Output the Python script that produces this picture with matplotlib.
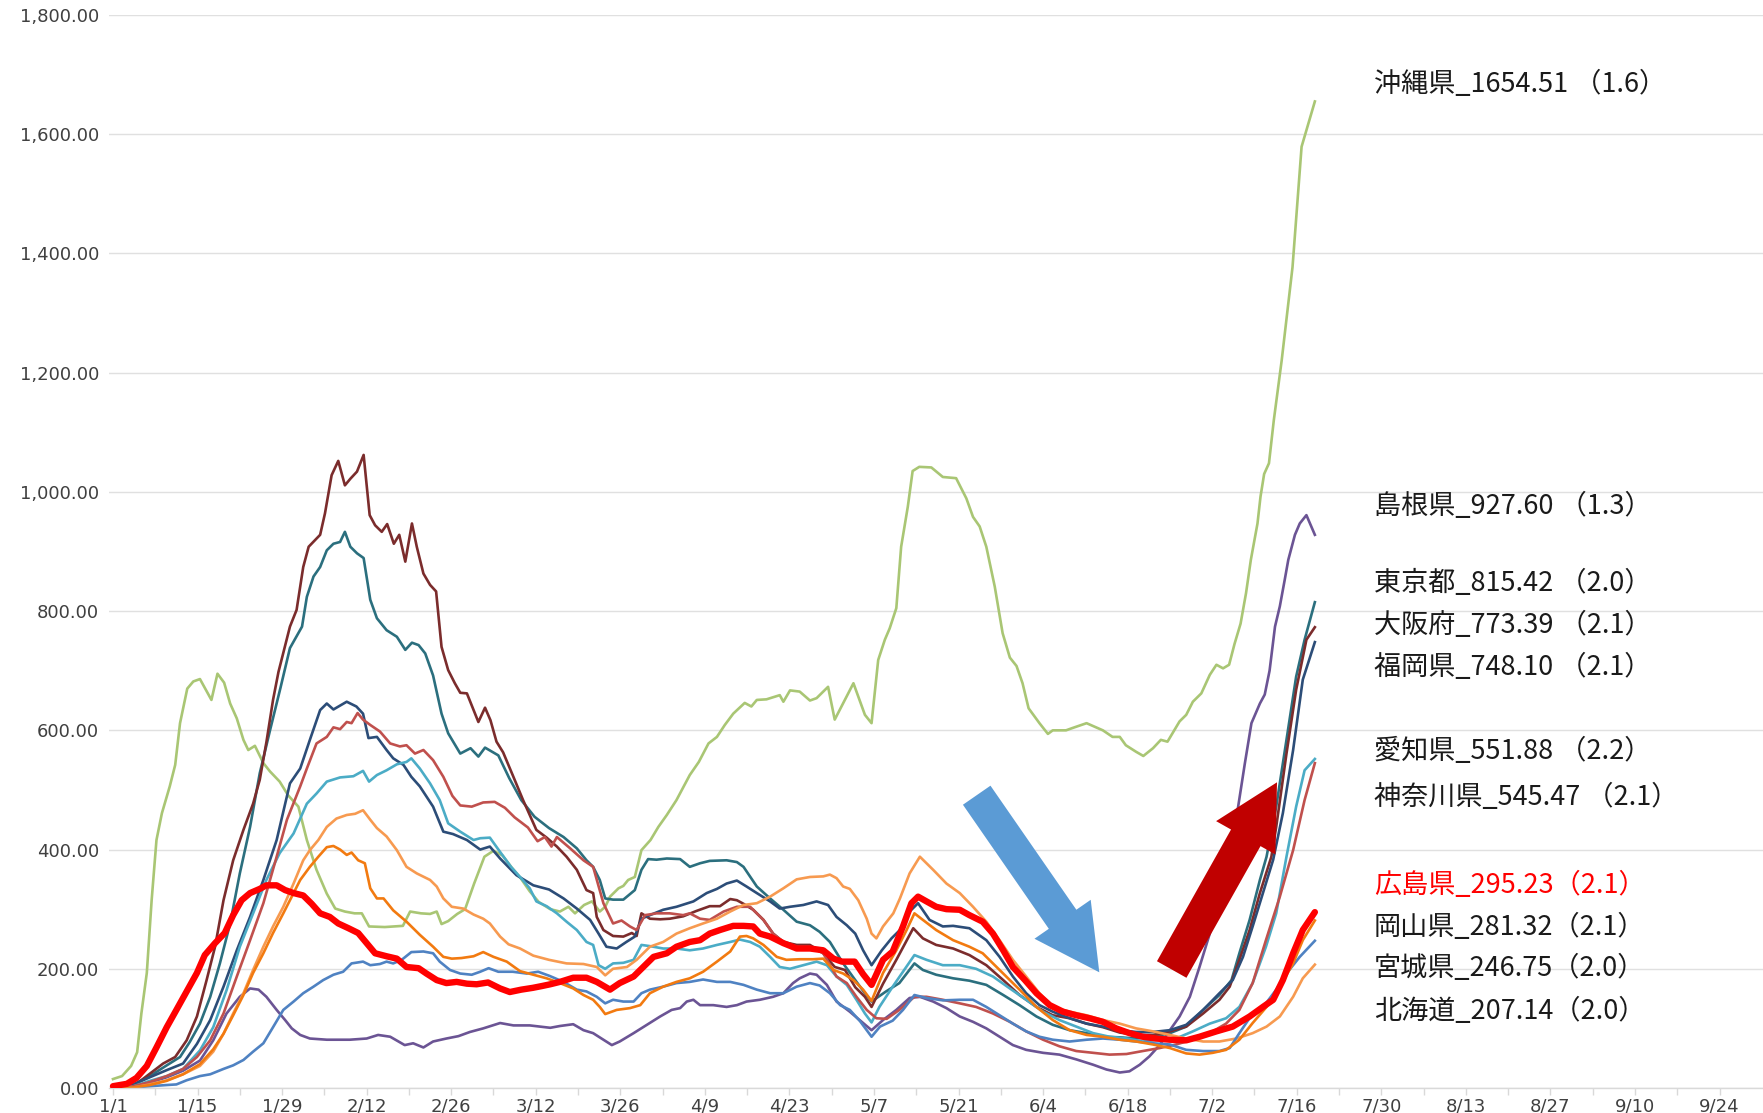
import datetime as dt
import matplotlib
matplotlib.use("Agg")
import matplotlib.pyplot as plt
from matplotlib.patches import FancyArrow
from matplotlib.transforms import Affine2D
from matplotlib.ticker import FuncFormatter

# ---- データ（1/1 からの経過日数, 直近1週間の人口10万人当たり新規陽性者数） ----
okinawa_day = [0, 1.5, 3, 4, 4.7, 5.6, 6.4, 7.2, 8.1, 9.4, 10.3, 11.1, 12.3, 13.3, 14.4, 16.3, 17.3, 18.4,
               19.4, 20.5, 21.6, 22.4, 23.5, 24.9, 26, 27.6, 29, 30.7, 32.1, 33.7, 35.4, 36.8, 38.4, 40, 41.2,
               42.4, 45, 48, 49.2, 51, 52.5, 53.6, 54.4, 55.5, 57, 58.3, 59.8, 61.5, 63, 64.5, 66, 67.5, 69,
               70.5, 72.4, 74, 75.4, 76.5, 78, 79.3, 80.6, 81.5, 82.3, 83.7, 84.5, 85.3, 86.4, 87.5, 89, 90.3,
               91.7, 93.3, 95.5, 97, 98.6, 100, 101.3, 102.7, 104.6, 105.7, 106.6, 108.2, 110.4, 111, 112.1,
               113.7, 115.4, 116.5, 118.4, 119.5, 122.6, 124.5, 125.6, 126.7, 127.8, 128.6, 129.7, 130.5,
               131.6, 132.4, 133.5, 135.5, 137.4, 139.6, 141.3, 142.4, 143.5, 144.6, 146, 147.3, 148.5, 149.6,
               150.6, 151.6, 153.4, 154.8, 155.6, 157.8, 158.9, 161.2, 162.8, 163.9, 165.5, 166.7, 167.7,
               169.4, 170.6, 172.2, 173.5, 174.6, 176.6, 177.7, 178.8, 180.2, 181.6, 182.7, 183.8, 184.8,
               185.7, 186.7, 187.6, 188.4, 189.5, 190, 190.6, 191.4, 192.2, 193.5, 195.3, 196.8, 199]
okinawa_val = [15, 20, 37, 60, 125, 193, 315, 416, 461, 506, 542, 612, 670, 682, 686, 651, 695, 680,
               645, 620, 584, 567, 574, 545, 531, 514, 491, 472, 416, 366, 326, 301, 296, 293, 293,
               271, 270, 272, 296, 293, 292, 296, 275, 280, 292, 300, 343, 388, 398, 390, 370, 352, 330,
               312, 300, 296, 304, 293, 307, 313, 296, 304, 321, 335, 339, 349, 354, 399, 416, 438,
               458, 483, 525, 547, 578, 589, 609, 628, 646, 640, 651, 652, 659, 648, 667,
               665, 650, 654, 673, 618, 679, 626, 612, 718, 752, 771, 805, 908,
               975, 1035, 1042, 1041, 1025, 1023, 989, 958, 942, 908, 841, 763, 722, 708,
               679, 637, 612, 594, 600, 600, 604, 612, 605, 600, 589, 589, 575,
               564, 557, 570, 584, 581, 615, 626, 648, 662, 693, 710, 704, 710,
               745, 779, 830, 886, 947, 992, 1030, 1048, 1120, 1220, 1377, 1579, 1655]

shimane_day = [0, 3.4, 6.1, 8.9, 11.6, 14.4, 16.6, 18.8, 21, 22.7, 24.1, 25.4, 27.1, 28.5, 29.6, 31, 32.6,
               35.4, 39.2, 42, 43.9, 45.9, 48.3, 49.7, 51.4, 53, 55.2, 57.2, 59.1, 61.3, 64.1, 66.3, 69,
               72.4, 74, 76.2, 77.9, 79.5, 81.2, 82.6, 83.9, 86.2, 88.4, 90.6, 92.5, 93.9, 95, 96.1, 97.2,
               99.4, 101.6, 103.3, 104.9, 107.1, 109.3, 111, 112.6, 113.7, 115.4, 116.5, 118.2, 119.8, 122,
               124.2, 125.6, 127.5, 129.7, 131.9, 133.6, 135.8, 138, 140.2, 142.4, 144.6, 146.8, 149, 151.2,
               154, 156.7, 159.5, 162.3, 164.5, 166.7, 168.3, 170, 171.6, 173.3, 175, 176.6, 178.3, 179.9,
               181.6, 183.2, 184.9, 186.3, 187.4, 188.5, 189.9, 190.7, 191.5, 192.4, 193.2, 194, 194.6,
               195.7, 196.5, 197.6, 199]
shimane_val = [0, 3, 9, 18, 29, 46, 80, 125, 153, 167, 165, 153, 131, 114, 100, 89, 83,
               81, 81, 83, 89, 86, 72, 75, 68, 78, 83, 87, 94, 100, 109, 105, 105,
               101, 104, 107, 97, 92, 81, 72, 78, 92, 106, 120, 131, 134, 145, 148, 139,
               139, 136, 139, 145, 148, 153, 159, 176, 184, 192, 190, 173, 145, 128,
               109, 97, 114, 131, 151, 153, 145, 134, 120, 111, 100, 86, 72, 64,
               59, 56, 48, 39, 31, 26, 28, 39, 53, 72, 97, 120, 153, 203,
               259, 327, 394, 472, 544, 612, 645, 660, 700, 774, 808, 852, 886,
               928, 947, 961, 928]

tokyo_day = [0, 3.4, 6.1, 8.9, 11.1, 12.7, 14.4, 16.1, 17.7, 19.4, 21, 22.7, 24.3, 26, 27.7, 29.3, 31.3,
             32.1, 33.2, 34.3, 35.4, 36.5, 37.6, 38.4, 39.3, 40.4, 41.5, 42.6, 43.7, 45.3, 47, 48.4, 49.5,
             50.6, 51.7, 53, 54.4, 55.5, 57.5, 59.2, 60.5, 61.6, 63.8, 65.6, 67.6, 69.8, 72.2, 74.6, 76.8,
             78.4, 79.5, 80.6, 81.5, 82.8, 84.5, 86.4, 87.5, 88.6, 90, 91.7, 93.9, 95.5, 97.2, 98.8, 101.6,
             103.3, 104.4, 106.6, 108.8, 111, 113.2, 115.4, 117, 118.7, 120.9, 122.9, 124.5, 125.6, 128,
             130.2, 132.7, 134.1, 136.3, 139.1, 141.8, 144.6, 147.4, 150.1, 152.9, 155.6, 158.4, 161.2,
             163.9, 166.7, 169.4, 172.2, 175, 177.7, 180.5, 183.2, 185.2, 186.5, 188.2, 189.9, 191, 192.6,
             194.3, 195.9, 197.3, 199]
tokyo_val = [0, 6, 20, 38, 52, 77, 108, 153, 209, 276, 360, 438, 528, 600, 670, 738, 774,
             824, 858, 874, 902, 913, 916, 933, 908, 897, 889, 819, 788, 768, 757, 735, 747,
             743, 729, 692, 628, 595, 561, 570, 556, 571, 558, 520, 483, 455, 436, 421, 402,
             382, 371, 349, 318, 316, 316, 332, 366, 384, 383, 385, 384, 371, 377, 381, 382,
             379, 371, 338, 318, 299, 279, 273, 262, 245, 209, 181, 159, 145, 162,
             176, 209, 198, 190, 184, 180, 173, 156, 139, 120, 106, 97, 92,
             86, 85, 83, 86, 92, 103, 131, 156, 181, 226, 282, 349, 388, 472,
             584, 690, 752, 815]

osaka_day = [0, 3.4, 6.1, 8.3, 10.3, 12.2, 13.9, 15.5, 16.9, 18.3, 19.9, 21.6, 23.2, 24.3, 25.4, 26.5,
             27.4, 29.3, 30.4, 31.5, 32.4, 34.3, 35.1, 36.2, 37.3, 38.4, 39.3, 40.4, 41.5, 42.5, 43.4, 44.5,
             45.4, 46.5, 47.4, 48.4, 49.5, 50.3, 51.4, 52.5, 53.5, 54.4, 55.5, 56.6, 57.5, 58.6, 60.5, 61.6,
             62.5, 63.5, 64.6, 66.3, 67.9, 70.1, 71.8, 73.5, 75.1, 76.8, 78.4, 79.5, 80.1, 81.2, 82.8, 84.5,
             85.9, 86.7, 87.5, 88.9, 90.6, 92.2, 94.4, 96.6, 98.8, 100.5, 102.2, 103.3, 104.4, 106, 107.7,
             109.3, 111, 113.2, 115.4, 117.6, 119.5, 121.2, 122.9, 124.5, 125.6, 127.5, 129.7, 132.5, 134.1,
             136.3, 139.1, 141.8, 144.6, 147.4, 150.1, 152.9, 155.6, 158.4, 161.2, 163.9, 166.7, 169.4,
             172.2, 175, 177.7, 180.5, 183.2, 184.9, 186.5, 188.2, 189.9, 191.8, 192.6, 194.3, 195.9,
             197.6, 199]
osaka_val = [0, 3, 24, 41, 52, 80, 120, 181, 237, 315, 382, 433, 477, 517, 580, 651,
             698, 774, 802, 874, 908, 928, 964, 1028, 1052, 1011, 1022, 1034, 1062, 961, 944, 933,
             946, 913, 928, 883, 947, 908, 863, 844, 833, 740, 701, 679, 663, 662, 614, 638,
             617, 581, 563, 522, 483, 433, 420, 405, 388, 366, 332, 327, 287, 265, 255, 254,
             260, 255, 293, 284, 283, 284, 288, 297, 305, 305, 317, 315, 309, 299, 282,
             259, 245, 240, 240, 226, 203, 198, 169, 153, 136, 175, 215, 268, 251,
             240, 234, 223, 206, 181, 156, 136, 122, 117, 108, 102, 93, 89,
             89, 95, 103, 125, 148, 170, 215, 265, 327, 388, 438, 561, 668,
             752, 773]

fukuoka_day = [0, 3.4, 6.1, 8.9, 11.6, 13.9, 16.1, 18.3, 20.5, 22.7, 24.9, 27.1, 29.3, 31, 32.6, 34.3,
               35.4, 36.5, 38.7, 40.3, 41.4, 42.3, 43.7, 45.3, 46.4, 48.1, 49.4, 50.8, 53, 54.7, 56.3, 58.6,
               60.8, 62.4, 64.1, 66.8, 69.6, 72.2, 74.6, 76.8, 79, 80.4, 81.7, 83.4, 85, 86.4, 87.5, 88.9,
               91.1, 93.3, 96.1, 98.3, 100, 101.6, 103.3, 104.9, 106.6, 108.8, 110.4, 112.1, 114.3, 116.5,
               118.4, 119.8, 121.5, 122.9, 124.2, 125.6, 127.3, 128.9, 130.3, 131.6, 133.3, 135.2, 137.4,
               139.1, 141.8, 144.6, 146.8, 149, 151.2, 153.4, 155.6, 158.4, 161.2, 163.9, 166.7, 169.4,
               172.2, 175, 177.7, 180.5, 183.2, 185.4, 187.1, 188.7, 190.4, 192.1, 193.7, 195.4, 197, 199]
fukuoka_val = [0, 6, 18, 30, 41, 74, 114, 170, 231, 287, 349, 416, 511, 536, 584, 634,
               645, 635, 648, 640, 628, 587, 589, 567, 553, 542, 522, 506, 472, 430, 426, 416,
               400, 405, 385, 357, 340, 333, 318, 301, 282, 259, 237, 234, 245, 254, 284, 290,
               299, 304, 313, 327, 334, 343, 348, 338, 327, 313, 301, 304, 307, 313,
               307, 287, 273, 259, 231, 206, 231, 251, 265, 293, 310, 282, 271,
               272, 268, 248, 220, 187, 159, 139, 128, 117, 108, 103, 97, 94,
               94, 97, 106, 131, 159, 181, 220, 271, 327, 383, 461, 567, 685, 748]

aichi_day = [0, 3.4, 6.1, 8.9, 11.6, 14.4, 16.6, 18.8, 21, 23.2, 25.4, 27.6, 29.9, 32.1, 33.7, 35.4, 37.6,
             39.8, 41.4, 42.4, 43.7, 45.3, 47, 48.6, 49.4, 50.8, 52.5, 54.1, 55.5, 57.5, 59.7, 60.8, 62.4,
             64.1, 65.9, 67.4, 69, 70.1, 71.8, 73.5, 75.1, 76.8, 78.4, 79.5, 80.4, 81.5, 82.8, 84.5, 86.2,
             87.5, 88.9, 91.1, 93.3, 95.5, 97.7, 100, 102.2, 103.8, 105.5, 107.1, 108.8, 110.4, 112.1,
             114.3, 116.5, 118.2, 119.8, 121.5, 123.1, 124.5, 125.6, 126.9, 129.1, 130.8, 132.7, 134.7,
             137.4, 140.2, 142.9, 145.7, 148.5, 151.2, 154, 156.7, 159.5, 162.3, 165, 167.8, 170.5, 173.3,
             176, 178.8, 181.6, 184.3, 186.5, 188.7, 190.9, 192.6, 194.3, 195.9, 197.3, 199]
aichi_val = [0, 3, 12, 20, 32, 63, 102, 164, 237, 293, 349, 394, 427, 477, 494, 514, 521,
             523, 532, 514, 525, 533, 543, 547, 553, 536, 511, 483, 444, 430, 416, 419, 420,
             396, 371, 354, 335, 313, 305, 293, 279, 265, 245, 240, 206, 200, 209, 210, 215,
             240, 238, 234, 234, 231, 234, 240, 245, 249, 245, 237, 220, 203, 200,
             206, 212, 206, 187, 173, 148, 125, 110, 136, 170, 195, 223, 215,
             206, 206, 200, 187, 167, 148, 128, 114, 103, 92, 86, 83, 78, 81,
             83, 95, 108, 117, 136, 176, 237, 293, 388, 472, 533, 552]

kanagawa_day = [0, 3.4, 6.1, 8.9, 11.6, 13.9, 16.1, 18.3, 20.5, 22.7, 24.9, 27.1, 28.8, 31, 32.1, 33.7,
                35.4, 36.5, 37.6, 38.7, 39.5, 40.5, 41.4, 42.6, 44.2, 45.9, 47.5, 48.6, 50, 51.4, 53, 54.7,
                56.2, 57.5, 59.4, 61.3, 63.2, 64.9, 66.5, 68.7, 70.3, 71.5, 72.6, 73.5, 75.7, 77.9, 79.5,
                81.2, 82.8, 84.2, 85.6, 86.7, 88.1, 90, 92.2, 94.4, 95.5, 97.2, 98.8, 101.1, 103.3, 105.5,
                107.7, 109.3, 111, 113.2, 115.4, 117.6, 119.8, 121.5, 123.1, 124.8, 126.4, 128.1, 130.2,
                132.7, 134.7, 137.4, 140.2, 142.9, 145.7, 148.5, 151.2, 154, 156.7, 159.5, 162.3, 165,
                167.8, 170.5, 173.3, 176, 178.8, 181.6, 184.3, 186.5, 188.7, 190.9, 193.2, 195.4, 197.3, 199]
kanagawa_val = [0, 3, 10, 20, 32, 52, 80, 125, 187, 248, 310, 388, 450, 506, 536, 578,
                589, 605, 602, 614, 612, 629, 618, 609, 598, 578, 573, 575, 561, 567, 550, 522,
                490, 474, 472, 479, 480, 470, 454, 437, 414, 421, 405, 421, 402, 382, 371,
                310, 276, 281, 271, 265, 290, 293, 293, 290, 293, 284, 282, 296, 304, 304,
                282, 259, 245, 237, 237, 226, 187, 176, 153, 131, 117, 116, 131,
                153, 153, 148, 142, 136, 125, 111, 95, 81, 70, 62, 59, 56,
                57, 62, 67, 73, 81, 92, 108, 131, 176, 248, 321, 399, 483, 545]

hiroshima_day = [0, 2.3, 3.9, 5.6, 7.2, 8.9, 10.5, 12.2, 13.9, 15.2, 16.9, 18.5, 19.9, 21.3, 22.7, 24.3,
                 25.4, 27.1, 28.5, 29.9, 31.5, 32.9, 34.3, 35.9, 37.3, 39, 40.6, 42, 43.4, 45.3, 47, 48.6,
                 50.6, 51.9, 53.6, 55.2, 56.9, 58.6, 60.2, 62.1, 64.1, 65.7, 67.6, 69.5, 71, 72.4, 74, 76.2,
                 78.4, 80.1, 82.3, 83.9, 86.2, 87.8, 89.5, 91.7, 93.3, 95.5, 97.2, 98.8, 100.5, 102.7,
                 104.4, 106, 107.1, 108.8, 111, 113.2, 115.4, 117.6, 119.3, 120.7, 122.8, 124.2, 125.6,
                 127.5, 129.1, 130.8, 132.2, 133.3, 134.7, 136.3, 138, 140.2, 141.8, 144, 145.7, 147.4,
                 149, 151, 152.9, 155.1, 157.3, 159.5, 161.7, 163.9, 166.1, 168.3, 170.5, 172.7, 175,
                 177.7, 179.9, 182.7, 185.4, 188.2, 190.4, 192.1, 193.7, 195.4, 197, 199]
hiroshima_val = [3, 7, 17, 37, 68, 102, 131, 162, 193, 223, 243, 260, 290, 315, 327, 334,
                 340, 340, 332, 327, 323, 309, 293, 287, 276, 268, 260, 243, 226, 221, 217, 203,
                 201, 192, 181, 176, 178, 175, 174, 177, 167, 161, 165, 168, 171, 174, 178, 185,
                 185, 178, 165, 176, 187, 203, 220, 226, 237, 245, 248, 259, 265, 272,
                 272, 271, 259, 254, 243, 234, 234, 231, 217, 212, 212, 191, 173,
                 215, 229, 271, 310, 321, 313, 304, 300, 299, 290, 279, 259, 231,
                 203, 181, 159, 139, 128, 122, 117, 111, 100, 92, 86, 83, 81,
                 80, 86, 95, 103, 120, 136, 148, 181, 226, 265, 295]

okayama_day = [0, 3.4, 6.1, 8.9, 11.6, 14.4, 16.6, 18.3, 19.9, 21.6, 23.2, 24.9, 26.5, 28.2, 29.9, 31,
               32.6, 34, 35.4, 36.5, 37.6, 38.7, 39.5, 40.6, 41.7, 42.6, 43.7, 44.8, 46.4, 48.6, 50.8, 53,
               54.7, 56.1, 57.7, 59.7, 61.3, 63, 65.2, 67.4, 69.6, 71.8, 74, 76.2, 77.9, 79.5, 80.6, 81.5,
               83.4, 85.6, 87.3, 88.9, 91.1, 93.3, 95.5, 97.7, 100, 102.2, 103.8, 104.9, 106, 107.7, 109.9,
               111.5, 113.7, 115.9, 117.6, 119.3, 120.9, 122.6, 124.2, 125.6, 127.5, 129.7, 131.4, 132.7,
               134.1, 136.3, 139.1, 141.8, 144, 146.3, 148.5, 150.7, 152.9, 155.6, 158.4, 161.2, 163.9,
               166.7, 169.4, 172.2, 175, 177.7, 179.9, 182.1, 184.3, 186.5, 188.7, 191, 193.2, 195.4, 197,
               199]
okayama_val = [0, 1, 5, 12, 23, 40, 65, 91, 122, 156, 193, 226, 260, 293, 327, 349,
               371, 388, 404, 406, 400, 391, 395, 382, 377, 335, 318, 318, 298, 279, 257, 237,
               220, 217, 218, 221, 228, 220, 212, 196, 190, 184, 176, 167, 156, 148, 136, 124,
               131, 134, 139, 159, 170, 178, 184, 195, 212, 229, 254, 255, 251, 240, 220,
               215, 216, 216, 217, 198, 192, 181, 165, 146, 193, 231, 265, 293,
               282, 265, 248, 237, 226, 203, 181, 159, 136, 114, 97, 89, 86,
               81, 78, 73, 67, 58, 56, 59, 64, 81, 109, 136, 170, 209, 248,
               281]

miyagi_day = [0, 3.4, 6.1, 8.9, 10.5, 12.2, 14.4, 16.1, 18.3, 19.9, 21.6, 23.2, 24.9, 26.5, 28.2, 29.9,
              31.5, 33.2, 34.8, 36.5, 38.1, 39.5, 41.4, 42.6, 44.2, 45.3, 46.4, 47.8, 49.4, 51.4, 53, 54.1,
              55.8, 57.5, 59.4, 60.8, 62.2, 63.8, 66.2, 68.5, 70.4, 72.3, 74.6, 76.8, 78.4, 80.1, 81.5,
              82.8, 84.5, 86.2, 87.5, 88.9, 91.1, 93.3, 95.5, 97.7, 100, 102.2, 104.4, 106.6, 108.8, 111,
              113.2, 115.4, 117, 118.7, 120.4, 122, 123.7, 125.6, 127, 129.1, 130.8, 132.7, 134.7, 137.4,
              140.2, 142.4, 144.6, 146.8, 149, 151.2, 153.4, 155.6, 158.4, 161.2, 163.9, 166.7, 169.4,
              172.2, 175, 177.7, 180.5, 183.2, 184.9, 186.5, 188.7, 190.9, 192.6, 194.3, 196.5, 199]
miyagi_val = [2, 1, 3, 5, 6, 13, 20, 23, 32, 38, 47, 61, 75, 102, 131, 145,
              159, 170, 181, 190, 195, 209, 212, 206, 208, 212, 209, 215, 228, 229, 226, 212,
              198, 192, 190, 195, 201, 195, 195, 192, 195, 188, 178, 165, 162, 153, 142,
              148, 145, 145, 159, 165, 170, 176, 178, 182, 178, 178, 173, 165, 159, 159,
              170, 176, 172, 159, 139, 131, 112, 86, 103, 113, 131, 156, 151, 147,
              148, 148, 136, 122, 108, 95, 86, 81, 78, 81, 83, 81, 78,
              75, 73, 64, 62, 62, 67, 92, 125, 142, 165, 192, 220, 247]

hokkaido_day = [0, 3.4, 6.1, 8.9, 11.6, 14.4, 16.6, 18.3, 19.9, 21.6, 23.2, 24.9, 26.5, 28.2, 29.9, 31.5,
                32.6, 34, 35.4, 37, 38.7, 40.1, 41.4, 42.6, 43.7, 45.3, 47, 48.6, 50.3, 52.5, 53.6, 54.7,
                56.1, 58, 59.7, 61.3, 62.4, 64.1, 65.5, 67.4, 69.6, 72.2, 75.1, 77.9, 80.1, 81.5, 82.8, 85.1,
                86.7, 88.9, 91.1, 93.3, 95.5, 97.7, 100, 102.2, 104.4, 106.6, 108.8, 111, 113.2, 115.4,
                117.6, 118.7, 119.8, 120.9, 122, 123.4, 124.8, 125.6, 126.4, 127.5, 129.2, 130.3, 131.9,
                133.6, 135.8, 138, 140.2, 142.4, 144.6, 146.8, 149, 151.2, 153.4, 155.6, 158.4, 161.2,
                163.9, 166.7, 169.4, 172.2, 175, 177.7, 180.5, 183.2, 186, 188.7, 191, 193.2, 195.4, 197, 199]
hokkaido_val = [0, 1, 6, 13, 23, 37, 61, 91, 125, 159, 198, 237, 271, 304, 343, 382,
                399, 416, 438, 452, 458, 460, 466, 450, 436, 422, 399, 371, 360, 349, 338, 318,
                304, 301, 291, 284, 276, 254, 241, 234, 222, 215, 209, 208, 203, 189, 200, 203,
                215, 237, 245, 259, 268, 276, 284, 296, 307, 310, 321, 335, 350, 354,
                355, 358, 352, 338, 334, 315, 284, 259, 251, 271, 293, 318, 360,
                388, 366, 343, 327, 304, 279, 248, 215, 187, 159, 136, 128, 122,
                114, 108, 100, 95, 89, 83, 78, 78, 83, 92, 103, 120, 153, 184, 207]

# ---- 系列の並び（描画順）と色 ----
series = [
    ("沖縄県", okinawa_day, okinawa_val, "#A9C674"),
    ("島根県", shimane_day, shimane_val, "#6B5494"),
    ("東京都", tokyo_day, tokyo_val, "#2B6F7E"),
    ("大阪府", osaka_day, osaka_val, "#7B2C2C"),
    ("福岡県", fukuoka_day, fukuoka_val, "#2C4D78"),
    ("愛知県", aichi_day, aichi_val, "#4BACC6"),
    ("神奈川県", kanagawa_day, kanagawa_val, "#C0504D"),
    ("北海道", hokkaido_day, hokkaido_val, "#F79A50"),
    ("宮城県", miyagi_day, miyagi_val, "#4F82C2"),
    ("岡山県", okayama_day, okayama_val, "#F27A10"),
]

# ---- 右側の注記（文字, 縦位置[px], 色） ----
notes = [
    ("沖縄県_1654.51 （1.6）", 84, "#1a1a1a"),
    ("島根県_927.60 （1.3）", 506, "#1a1a1a"),
    ("東京都_815.42 （2.0）", 583, "#1a1a1a"),
    ("大阪府_773.39 （2.1）", 625, "#1a1a1a"),
    ("福岡県_748.10 （2.1）", 667, "#1a1a1a"),
    ("愛知県_551.88 （2.2）", 751, "#1a1a1a"),
    ("神奈川県_545.47 （2.1）", 797, "#1a1a1a"),
    ("広島県_295.23（2.1）", 885, "#FF0000"),
    ("岡山県_281.32（2.1）", 927, "#1a1a1a"),
    ("宮城県_246.75（2.0）", 968, "#1a1a1a"),
    ("北海道_207.14（2.0）", 1011, "#1a1a1a"),
]

W, H = 1763, 1113
JP = ["Noto Sans CJK JP", "DejaVu Sans"]

fig = plt.figure(figsize=(W / 100, H / 100), dpi=100)
ax = fig.add_axes([109 / W, (H - 1088) / H, 1 - 109 / W, (1088 - 15) / H])

for name, d, v, c in series:
    ax.plot(d, v, color=c, lw=1.9, solid_joinstyle="round", zorder=2)
ax.plot(hiroshima_day, hiroshima_val, color="#FF0000", lw=4.6,
        solid_joinstyle="round", solid_capstyle="round", zorder=3)

# 軸
ax.set_xlim(-0.66, 273.2)
ax.set_ylim(0, 1800)
start = dt.date(2022, 1, 1)
major = list(range(0, 267, 14))
ax.set_xticks(major)
ax.set_xticklabels([f"{(start + dt.timedelta(days=k)).month}/{(start + dt.timedelta(days=k)).day}"
                    for k in major])
ax.set_xticks(list(range(7, 267, 14)), minor=True)
ax.set_yticks(range(0, 1801, 200))
ax.yaxis.set_major_formatter(FuncFormatter(lambda y, _: f"{y:,.2f}"))

for lab in ax.get_xticklabels() + ax.get_yticklabels():
    lab.set_family("DejaVu Sans")
    lab.set_fontsize(13)
    lab.set_color("#404040")

ax.tick_params(axis="y", length=0, pad=7)
ax.tick_params(axis="x", which="both", length=5, width=1, color="#D9D9D9", pad=2)
ax.yaxis.grid(True, color="#E0E0E0", lw=1)
ax.set_axisbelow(True)
for s in ("top", "right", "left"):
    ax.spines[s].set_visible(False)
ax.spines["bottom"].set_color("#D9D9D9")
ax.spines["bottom"].set_linewidth(1)

# ピクセル座標（左上原点）
px = Affine2D().scale(1, -1).translate(0, H)

for txt, y, c in notes:
    fig.text(1374, y, txt, transform=px, fontsize=19.5, color=c, va="center", ha="left", family=JP)

# 矢印（減少→増加）
fig.add_artist(FancyArrow(976.7, 795.2, 122.6, 177.1, width=33.5, head_width=68.4, head_length=64.5,
                          length_includes_head=True, transform=px, color="#5B9BD5", lw=0, zorder=5))
fig.add_artist(FancyArrow(1171.7, 969.5, 105.3, -187.2, width=33.8, head_width=68.1, head_length=63.7,
                          length_includes_head=True, transform=px, color="#C00000", lw=0, zorder=5))

fig.savefig("out.png", dpi=100)
